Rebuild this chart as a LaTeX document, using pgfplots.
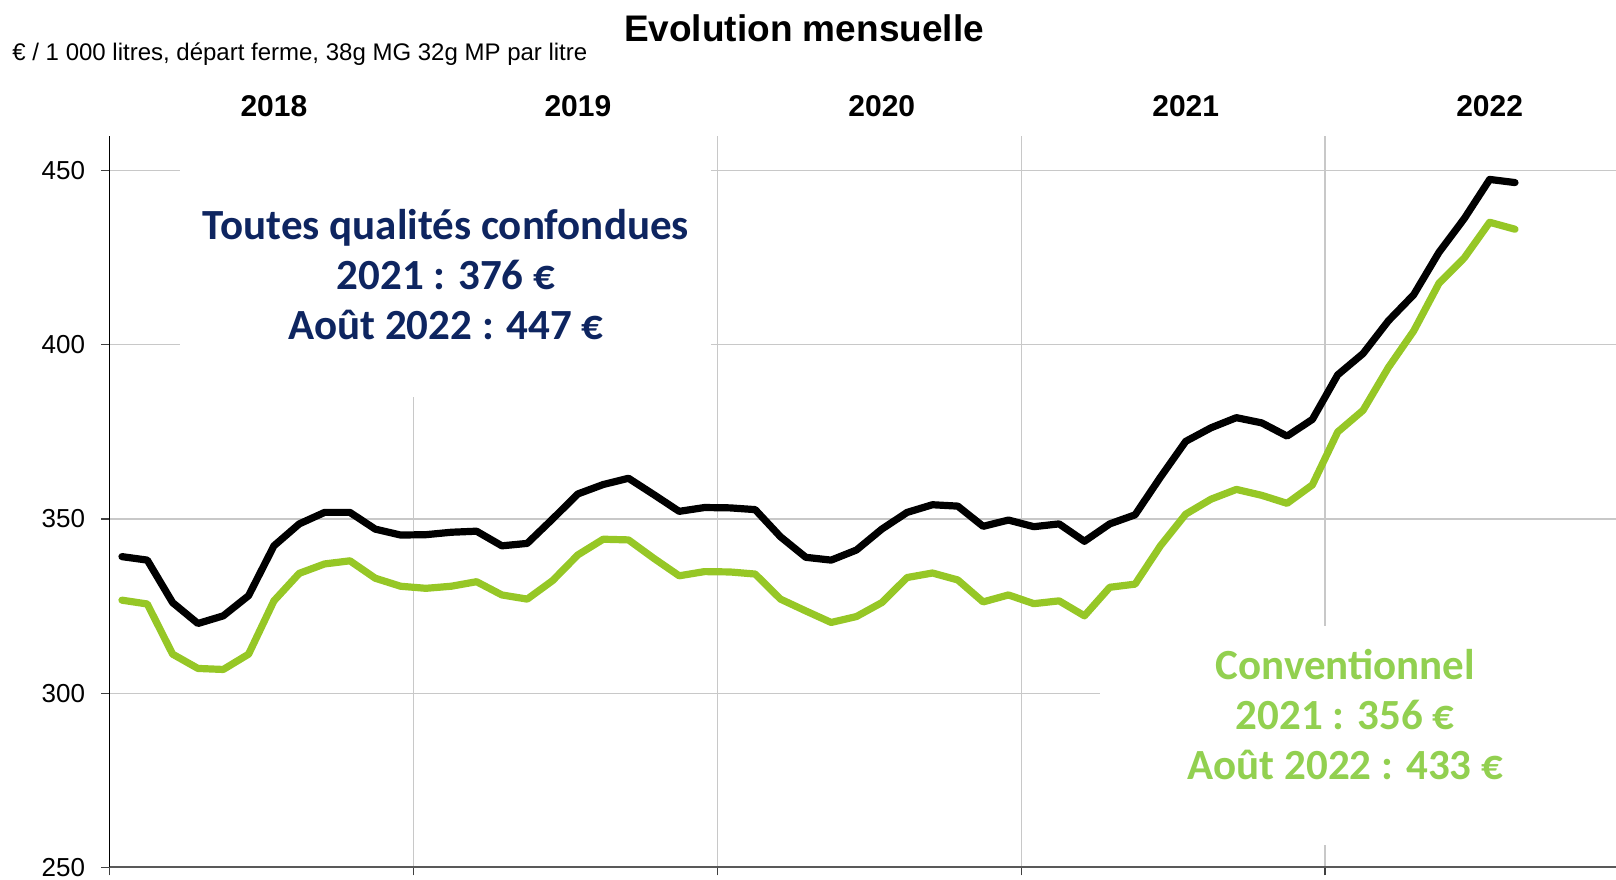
\documentclass[border=0pt]{standalone}
\usepackage{fontspec}
\setmainfont{Liberation Sans}
\newfontfamily\calibri{Carlito}
\usepackage{pgfplots}
\usepackage{pgfplotstable}
\pgfplotsset{compat=1.18}

\definecolor{navy}{RGB}{14,37,96}
\definecolor{linegreen}{RGB}{150,199,38}
\definecolor{txtgreen}{RGB}{146,208,80}
\definecolor{gridgray}{RGB}{200,200,200}

% mois 0 = janvier 2018 ... 55 = aout 2022
\pgfplotstableread{
m tous conv
0 339.2 326.7
1 338.2 325.6
2 326.0 311.2
3 320.0 307.1
4 322.2 306.8
5 328.0 311.2
6 342.3 326.5
7 348.6 334.4
8 351.9 337.1
9 351.9 338.0
10 347.1 333.0
11 345.4 330.7
12 345.5 330.1
13 346.2 330.7
14 346.5 332.0
15 342.3 328.2
16 343.0 327.0
17 350.0 332.3
18 357.2 339.7
19 359.9 344.2
20 361.7 344.0
21 357.0 338.7
22 352.2 333.7
23 353.3 334.9
24 353.2 334.8
25 352.7 334.2
26 344.9 327.0
27 339.0 323.6
28 338.2 320.3
29 341.1 322.0
30 347.1 326.0
31 351.9 333.2
32 354.1 334.5
33 353.7 332.5
34 347.9 326.2
35 349.7 328.2
36 347.8 325.7
37 348.6 326.5
38 343.6 322.2
39 348.6 330.4
40 351.2 331.3
41 362.0 342.3
42 372.3 351.4
43 376.2 355.7
44 379.1 358.5
45 377.6 356.8
46 373.8 354.5
47 378.6 359.8
48 391.4 375.0
49 397.5 381.2
50 406.9 393.5
51 414.4 404.0
52 426.6 417.7
53 436.3 425.0
54 447.5 435.2
55 446.6 433.2
}\prix

\begin{document}
\begin{tikzpicture}
\path[use as bounding box] (0pt,0pt) rectangle (808pt,439.5pt);
\node[anchor=center,font=\bfseries\fontsize{18.5}{22}\selectfont] at (402pt,425.5pt) {Evolution mensuelle};
\node[anchor=west,inner sep=0pt,font=\fontsize{12}{14}\selectfont] at (6pt,412.5pt) {€ / 1 000 litres, départ ferme, 38g MG 32g MP par litre};
\begin{axis}[
  at={(54.65pt,5.85pt)}, anchor=south west,
  scale only axis, width=753.5pt, height=365.7pt,
  xmin=-0.5, xmax=59, ymin=250, ymax=460,
  axis x line*=bottom, axis y line*=left,
  x axis line style={draw=black!65, line width=1pt},
  y axis line style={draw=black, line width=0.6pt},
  xtick={-0.5,11.5,23.5,35.5,47.5}, xticklabels={},
  ytick={250,300,...,450},
  xmajorgrids, ymajorgrids,
  major grid style={draw=gridgray, line width=0.6pt},
  tick align=outside, major tick length=4pt,
  tick style={draw=black!75, line width=0.6pt},
  /pgf/number format/assume math mode=true,
  yticklabel style={font=\fontsize{13}{15}\selectfont, xshift=-4.6pt},
  clip=false,
]
\fill[white] (axis cs:2.29,460) rectangle (axis cs:23.25,385);
\fill[white] (axis cs:38.6,319.3) rectangle (axis cs:59,256.4);

\addplot[black, line width=3.6pt, line cap=round, line join=round] table[x=m, y=tous] {\prix};
\addplot[linegreen, line width=3.6pt, line cap=round, line join=round] table[x=m, y=conv] {\prix};

\foreach \yr/\xx in {2018/6,2019/18,2020/30,2021/42,2022/54}{
  \edef\tmp{\noexpand\node[font=\noexpand\bfseries\noexpand\fontsize{15}{18}\noexpand\selectfont] at (axis cs:\xx,468.6) {\yr};}
  \tmp
}

\node[align=center, text=navy, font=\calibri\bfseries\fontsize{21.5}{25}\selectfont] at (axis cs:12.79,420.3)
  {Toutes qualités confondues\\2021 : 376 €\\Août 2022 : 447 €};
\node[align=center, text=txtgreen, font=\calibri\bfseries\fontsize{21.5}{25}\selectfont] at (axis cs:48.3,294.0)
  {Conventionnel\\2021 : 356 €\\Août 2022 : 433 €};
\end{axis}
\end{tikzpicture}
\end{document}
